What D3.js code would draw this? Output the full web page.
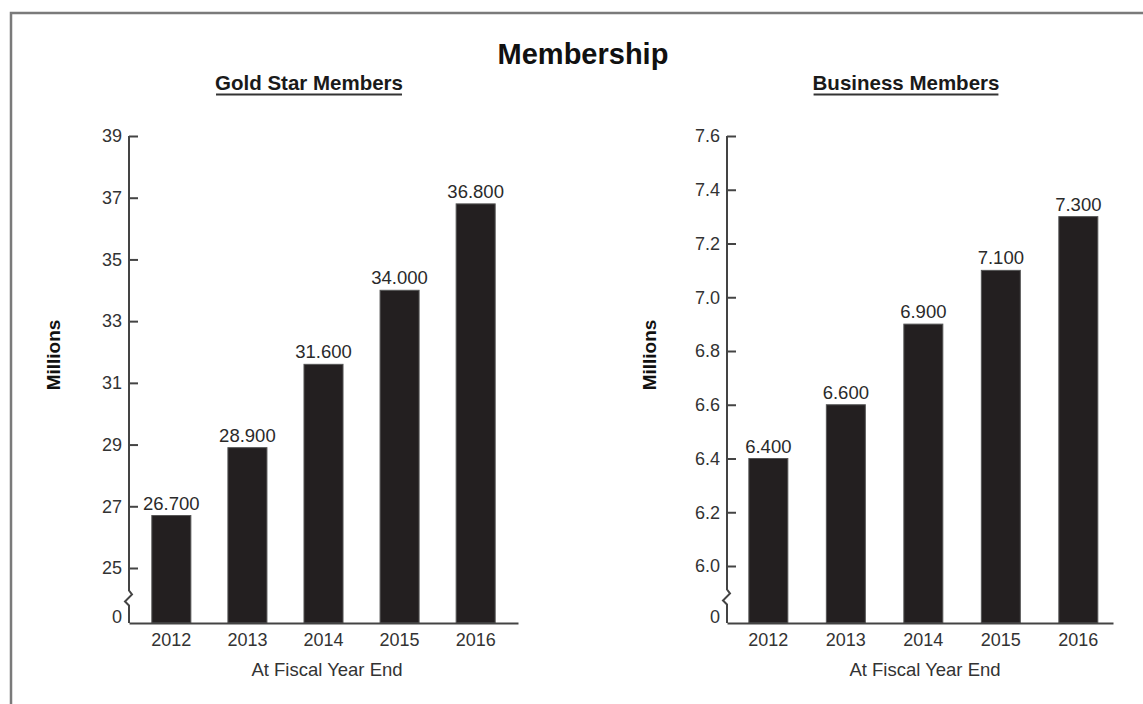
<!DOCTYPE html>
<html>
<head>
<meta charset="utf-8">
<script src="https://cdn.jsdelivr.net/npm/d3@7"></script>
<style>
  html, body { margin: 0; padding: 0; background: #fff; }
  svg { display: block; font-family: "Liberation Sans", Arial, Helvetica, sans-serif; }
</style>
</head>
<body>
<svg id="chart" width="1143" height="704"></svg>
<script>
// ---- data ----
const years = ["2012", "2013", "2014", "2015", "2016"];
const goldStarValues = [26.7, 28.9, 31.6, 34.0, 36.8];
const businessValues = [6.4, 6.6, 6.9, 7.1, 7.3];
const goldStarTicks = [25, 27, 29, 31, 33, 35, 37, 39];
const businessTicks = [6.0, 6.2, 6.4, 6.6, 6.8, 7.0, 7.2, 7.4, 7.6];
const mainTitle = "Membership";
const panelTitles = ["Gold Star Members", "Business Members"];
const yAxisTitle = "Millions";
const xAxisTitle = "At Fiscal Year End";

const svg = d3.select("#chart");

// frame
svg.append("path")
  .attr("d", "M11,704V13H1143")
  .attr("fill", "none").attr("stroke", "#7a7a7a").attr("stroke-width", 2.5);

svg.append("text")
  .attr("x", 583).attr("y", 64)
  .attr("text-anchor", "middle")
  .attr("font-size", 29).attr("font-weight", "bold")
  .attr("fill", "#111")
  .text(mainTitle);

const baseY = 623;
const tickFont = 18;

const panels = [
  {
    title: panelTitles[0], titleX: 309, values: goldStarValues, ticks: goldStarTicks,
    axisX: 129, xEnd: 518, padInner: 0.487, padOuter: 0.30, align: 0.5,
    yDomain: [25, 39], yRange: [568, 136], tickFmt: d3.format("d"),
    labelX: 60, xTitleX: 327
  },
  {
    title: panelTitles[1], titleX: 906, values: businessValues, ticks: businessTicks,
    axisX: 727, xEnd: 1113, padInner: 0.497, padOuter: 0.239, align: 0.59,
    yDomain: [6.0, 7.6], yRange: [566, 136], tickFmt: d3.format(".1f"),
    labelX: 656, xTitleX: 925
  }
];

panels.forEach(p => {
  const g = svg.append("g");

  // subtitle with underline
  const t = g.append("text")
    .attr("x", p.titleX).attr("y", 90)
    .attr("text-anchor", "middle")
    .attr("font-size", 20.5).attr("font-weight", "bold")
    .attr("fill", "#1a1a1a")
    .text(p.title);
  const w = t.node().getComputedTextLength();
  g.append("line")
    .attr("x1", p.titleX - w / 2 + 1).attr("x2", p.titleX + w / 2 - 1)
    .attr("y1", 94.5).attr("y2", 94.5)
    .attr("stroke", "#333").attr("stroke-width", 2);

  const x = d3.scaleBand().domain(years)
    .range([p.axisX, p.xEnd])
    .paddingInner(p.padInner).paddingOuter(p.padOuter).align(p.align);
  const y = d3.scaleLinear().domain(p.yDomain).range(p.yRange);

  // bars
  g.selectAll("rect.bar").data(p.values).join("rect")
    .attr("class", "bar")
    .attr("x", (d, i) => x(years[i]))
    .attr("width", x.bandwidth())
    .attr("y", d => y(d))
    .attr("height", d => baseY - y(d))
    .attr("fill", "#231f20")
    .attr("stroke", "#555").attr("stroke-width", 1);

  // value labels
  g.selectAll("text.val").data(p.values).join("text")
    .attr("class", "val")
    .attr("x", (d, i) => x(years[i]) + x.bandwidth() / 2)
    .attr("y", d => y(d) - 6)
    .attr("text-anchor", "middle")
    .attr("font-size", 18.5).attr("fill", "#2a2a2a")
    .text(d => d3.format(".3f")(d));

  // y axis ticks (inward)
  const yAxis = d3.axisLeft(y).tickValues(p.ticks).tickFormat(p.tickFmt)
    .tickSizeInner(-9).tickSizeOuter(0).tickPadding(7);
  const ya = g.append("g").attr("transform", `translate(${p.axisX},0)`).call(yAxis);
  ya.select(".domain").remove();
  ya.selectAll(".tick line").attr("stroke", "#444").attr("stroke-width", 2);
  ya.selectAll(".tick text").attr("font-size", tickFont).attr("fill", "#333")
    .attr("font-family", "Liberation Sans, Arial, sans-serif");

  // zero label below break
  g.append("text")
    .attr("x", p.axisX - 7).attr("y", 617).attr("dy", "0.32em")
    .attr("text-anchor", "end").attr("font-size", tickFont).attr("fill", "#333")
    .text("0");

  // y axis line with break
  const ax = p.axisX;
  const top = p.yRange[1];
  const brk = (p.yRange[0] + baseY) / 2 - 5;
  g.append("path")
    .attr("d", `M${ax},${top}V${brk}L${ax + 3},${brk + 4}L${ax - 4},${brk + 11}L${ax},${brk + 15}V${baseY}`)
    .attr("fill", "none").attr("stroke", "#444").attr("stroke-width", 2);

  // x axis
  const xAxis = d3.axisBottom(x).tickSize(0).tickSizeOuter(0).tickPadding(10);
  const xa = g.append("g").attr("transform", `translate(0,${baseY})`).call(xAxis);
  xa.select(".domain").attr("stroke", "#444").attr("stroke-width", 2);
  xa.selectAll(".tick text").attr("font-size", tickFont).attr("fill", "#333")
    .attr("font-family", "Liberation Sans, Arial, sans-serif");

  // axis titles
  g.append("text")
    .attr("x", p.xTitleX).attr("y", 676)
    .attr("text-anchor", "middle").attr("font-size", 18.5).attr("fill", "#333")
    .text(xAxisTitle);

  g.append("text")
    .attr("transform", `translate(${p.labelX},355) rotate(-90)`)
    .attr("text-anchor", "middle").attr("font-size", 19).attr("font-weight", "bold")
    .attr("fill", "#111")
    .text(yAxisTitle);
});
</script>
</body>
</html>
